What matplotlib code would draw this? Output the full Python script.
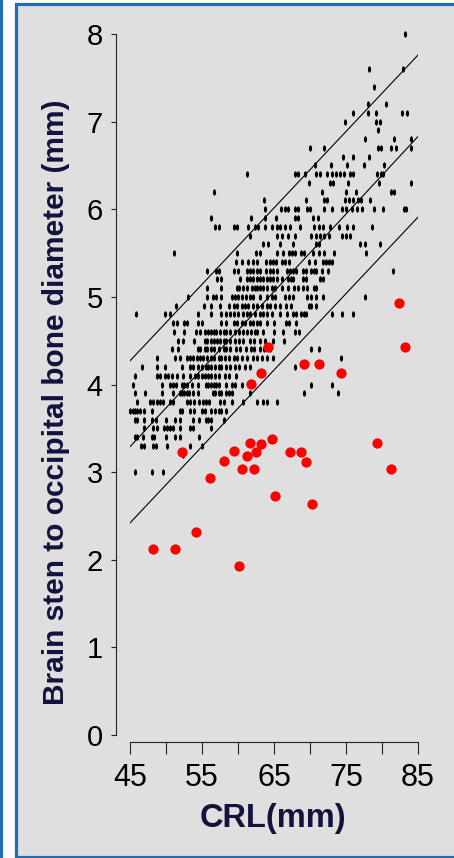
import matplotlib
matplotlib.use("Agg")
from matplotlib import pyplot as plt
from matplotlib.patches import Rectangle
from matplotlib.path import Path
from matplotlib.transforms import Affine2D

# normal fetuses: brain stem to occipital bone diameter level (mm) -> CRL values (mm)
normal_by_bsob = {
    8.0: [83.2],
    7.6: [78.2, 82.9],
    7.4: [78.9],
    7.2: [78.0, 80.6],
    7.1: [76.0, 78.1, 79.2, 82.8, 83.5],
    7.0: [74.8, 79.2, 79.7],
    6.9: [79.5],
    6.8: [77.6, 81.7, 84.0],
    6.7: [70.0, 71.9, 79.5, 79.9, 81.2, 81.9, 84.0],
    6.6: [74.6, 76.0, 78.2],
    6.5: [70.7, 72.9, 75.2, 77.5, 80.3],
    6.4: [61.2, 67.9, 68.4, 69.3, 70.8, 71.4, 72.3, 73.0, 73.6, 74.2, 74.7, 75.6, 76.0, 79.3, 79.8, 80.2],
    6.3: [69.9, 72.8, 73.2, 75.3, 79.6, 84.0],
    6.2: [56.7, 71.7, 75.0, 76.4, 81.3, 81.7],
    6.1: [63.6, 69.4, 71.9, 72.4, 74.8, 75.4, 76.0, 76.6, 77.1, 78.3],
    6.0: [63.8, 66.0, 66.5, 67.0, 67.9, 68.4, 69.6, 70.0, 71.9, 73.0, 74.5, 75.0, 75.8,
          76.5, 77.2, 78.9, 80.2, 83.0, 83.4],
    5.9: [56.3, 61.8, 63.8, 65.3, 67.9, 68.4, 70.4, 71.1],
    5.8: [56.8, 57.3, 59.4, 59.8, 61.4, 62.4, 62.8, 63.8, 64.7, 65.4, 65.9, 66.5, 67.2,
          68.6, 70.5, 71.2, 71.8, 72.8, 74.0, 75.1, 76.0, 78.6],
    5.7: [61.6, 65.4, 66.1, 67.0, 67.9, 70.2, 70.9, 71.4, 71.9, 72.6, 74.4, 75.0, 75.6],
    5.6: [63.5, 64.1, 65.9, 67.6, 70.9, 71.3, 77.0, 77.6, 79.7],
    5.5: [51.1, 59.8, 62.5, 63.0, 65.4, 66.3, 67.1, 67.5, 67.9, 68.8, 69.2, 70.4, 71.3,
          72.0, 73.3, 77.8],
    5.4: [59.7, 60.5, 61.4, 62.1, 62.6, 63.9, 64.4, 64.8, 65.3, 66.1, 66.5, 67.1, 69.8,
          70.7, 71.8, 72.2, 72.6, 73.1],
    5.3: [55.7, 56.9, 57.3, 59.4, 60.0, 61.2, 61.6, 62.1, 62.6, 63.1, 63.9, 64.4, 64.8,
          65.4, 66.8, 67.2, 67.7, 68.0, 69.0, 69.5, 70.1, 70.5, 70.8, 71.6, 72.5, 81.5],
    5.2: [57.1, 57.7, 60.3, 61.2, 61.6, 62.1, 62.7, 63.1, 63.5, 64.0, 64.4, 64.9, 65.4,
          66.1, 67.0, 67.3, 67.7, 69.0, 69.4, 71.4, 71.8],
    5.1: [55.7, 57.7, 59.8, 60.2, 60.7, 61.2, 61.9, 62.4, 62.7, 63.1, 63.5, 64.0, 64.7,
          65.1, 66.1, 67.0, 67.8, 68.4, 69.0, 69.6, 70.5, 70.9],
    5.0: [53.1, 55.7, 56.5, 57.0, 57.7, 59.1, 59.6, 60.0, 60.5, 61.1, 61.7, 62.1, 63.1,
          64.0, 64.7, 65.1, 66.5, 67.1, 67.7, 69.6, 70.1, 70.9, 71.8, 77.7],
    4.9: [51.4, 55.3, 56.3, 57.5, 58.7, 59.4, 59.8, 60.5, 61.0, 61.4, 62.1, 62.7, 63.3,
          64.0, 64.4, 65.1, 65.9, 66.7, 67.4, 69.9, 70.2, 70.9],
    4.8: [45.8, 49.9, 50.6, 54.4, 56.3, 57.7, 58.3, 58.9, 59.4, 60.0, 60.7, 61.2, 61.6,
          62.4, 63.0, 63.5, 64.0, 64.7, 65.9, 66.8, 67.6, 68.1, 68.7, 69.2, 69.5, 73.0,
          74.4, 76.0],
    4.7: [51.0, 51.5, 52.5, 52.9, 54.4, 55.0, 57.7, 58.3, 59.4, 59.9, 60.5, 61.0, 61.6,
          62.1, 62.6, 63.1, 64.0, 65.0, 66.7, 67.1, 68.1],
    4.6: [51.1, 52.5, 54.2, 54.7, 55.4, 55.9, 56.2, 56.6, 57.0, 57.5, 58.0, 58.4, 58.9,
          59.6, 60.2, 60.7, 61.2, 61.8, 62.4, 62.7, 63.5, 65.0, 66.3, 67.9, 68.5],
    4.5: [51.7, 52.4, 53.9, 55.4, 55.7, 56.2, 56.7, 57.1, 57.5, 58.0, 58.4, 58.9, 59.6,
          60.2, 60.7, 61.6, 62.2, 63.1, 63.8, 64.8, 66.4],
    4.4: [50.8, 51.7, 54.4, 54.7, 55.4, 55.7, 56.2, 56.7, 57.3, 58.0, 58.4, 58.9, 59.7,
          60.3, 61.1, 61.8, 62.2, 63.1, 63.6, 64.4, 70.2, 71.3],
    4.3: [48.8, 51.3, 51.9, 52.9, 53.3, 53.8, 54.3, 54.7, 55.2, 55.7, 56.2, 56.7, 57.3,
          57.7, 58.2, 58.8, 59.4, 59.9, 60.5, 61.2, 62.1, 62.6, 63.3, 64.0, 64.9, 74.3],
    4.2: [46.6, 48.7, 49.9, 52.2, 53.3, 53.8, 54.4, 55.0, 55.6, 55.9, 56.3, 56.8, 57.3,
          57.7, 58.3, 58.9, 59.6, 60.2, 61.0, 61.7, 67.9],
    4.1: [45.7, 48.7, 49.1, 49.9, 50.3, 50.9, 51.5, 52.4, 53.3, 54.0, 54.5, 55.0, 55.4,
          55.9, 56.3, 56.8, 57.3, 58.2, 58.7, 59.7],
    4.0: [45.4, 49.4, 50.5, 51.0, 51.4, 52.2, 52.5, 52.9, 53.6, 54.5, 55.6, 55.9, 56.2,
          56.6, 57.0, 57.4, 58.4, 59.1, 59.6, 60.5, 62.0, 70.1, 73.0],
    3.9: [45.7, 47.1, 49.4, 51.0, 51.9, 52.2, 52.5, 52.9, 53.2, 53.7, 54.5, 56.5, 56.8,
          57.3, 57.7, 58.3, 58.7, 59.1, 61.6, 69.1, 73.9],
    3.8: [46.0, 47.8, 48.2, 48.7, 49.2, 49.6, 50.6, 51.0, 52.9, 53.3, 53.9, 54.6, 55.1,
          55.6, 56.0, 57.5, 58.1, 59.1, 60.7, 62.6, 63.5, 64.0, 65.4],
    3.7: [45.0, 45.4, 45.7, 46.0, 46.4, 46.9, 48.0, 51.9, 52.2, 53.4, 53.9, 55.0, 55.4,
          56.3, 56.8, 57.3, 57.7, 58.3],
    3.6: [45.7, 46.0, 46.9, 48.1, 48.6, 50.0, 51.3, 51.9, 53.8, 54.6, 55.6, 55.9, 56.2, 58.0],
    3.5: [46.9, 48.2, 48.7, 49.7, 50.1, 50.6, 51.0, 51.9, 53.3, 53.8, 56.3],
    3.4: [45.7, 46.0, 46.8, 48.1, 48.3, 50.0, 51.3, 51.9, 54.6],
    3.3: [46.5, 46.9, 48.2, 48.6, 50.1, 53.3, 55.0],
    3.2: [52.4],
    3.0: [45.7, 48.0, 49.6],
}

# affected fetuses (red)
red_crl = [48.2, 51.2, 54.2, 52.2, 56.1, 58.1, 59.5, 60.1, 60.6, 61.3, 61.7, 62.2, 62.5,
           63.2, 64.7, 65.2, 61.8, 63.2, 64.2, 67.2, 68.7, 69.4, 69.2, 71.2, 70.3, 74.3,
           79.3, 81.3, 82.3, 83.2]
red_bsob = [2.12, 2.12, 2.32, 3.23, 2.93, 3.13, 3.24, 1.93, 3.03, 3.18, 3.33, 3.03, 3.23,
            3.32, 3.38, 2.73, 4.01, 4.13, 4.43, 3.23, 3.23, 3.12, 4.23, 4.23, 2.64, 4.13,
            3.33, 3.03, 4.93, 4.43]

# reference lines (5th, 50th, 95th centile)
line_crl = [45, 85]
upper_line = [4.27, 7.76]
median_line = [3.29, 6.83]
lower_line = [2.42, 5.91]

x_major = [45, 55, 65, 75, 85]
x_minor = [50, 60, 70, 80]
y_ticks = [0, 1, 2, 3, 4, 5, 6, 7, 8]

W, H = 454, 858
blue = "#1f6db5"
navy = "#12123d"

plt.rcParams["font.family"] = ["Liberation Sans", "DejaVu Sans"]

fig = plt.figure(figsize=(W / 100, H / 100), dpi=100)
fig.patch.set_facecolor("white")
fig.patches.append(Rectangle((0, 0), 2.5 / W, 1, transform=fig.transFigure,
                             fc=blue, ec="none", zorder=-2))
fig.patches.append(Rectangle((15.5 / W, 1 / H), (480 - 15.5) / W, (854.5 - 1) / H,
                             transform=fig.transFigure, fc="#dfdfdf", ec=blue,
                             lw=2.3, zorder=-1))

ax = fig.add_axes([130 / W, 1 - 735 / H, 288 / W, 701 / H])
ax.patch.set_alpha(0)

xs, ys = [], []
for level, crls in normal_by_bsob.items():
    xs += crls
    ys += [level] * len(crls)

ell = Path.unit_circle().transformed(Affine2D().scale(0.5, 1.0))
ax.scatter(xs, ys, marker=ell, s=21, c="black", linewidths=0, clip_on=False, zorder=3)
ax.plot(red_crl, red_bsob, "o", color="#ff0000", markersize=7.4, markeredgewidth=0,
        clip_on=False, zorder=4)

for vals in (upper_line, median_line, lower_line):
    ax.plot(line_crl, vals, color="black", lw=0.8, zorder=2)

ax.set_xlim(45, 85)
ax.set_ylim(0, 8)
for s in ("top", "right"):
    ax.spines[s].set_visible(False)
ax.spines["left"].set_position(("outward", 10))
ax.spines["bottom"].set_position(("outward", 5))
for s in ("left", "bottom"):
    ax.spines[s].set_linewidth(0.8)
    ax.spines[s].set_color("#222222")

ax.set_xticks(x_major)
ax.set_xticks(x_minor, minor=True)
ax.set_yticks(y_ticks)
ax.tick_params(axis="x", which="both", direction="out", length=8.4, width=0.8,
               color="#222222", labelsize=22, pad=7)
ax.tick_params(axis="y", direction="out", length=3.6, width=0.8,
               color="#222222", labelsize=21, pad=6)

fig.text(273 / W, 1 - 818 / H, "CRL(mm)", ha="center", va="center",
         fontsize=23.5, fontweight="bold", color=navy)
fig.text(56 / W, 1 - 402 / H, "Brain sten to occipital bone diameter (mm)",
         ha="center", va="center", rotation=90, fontsize=21.5, fontweight="bold",
         color=navy)

fig.savefig("out.png", dpi=100)
